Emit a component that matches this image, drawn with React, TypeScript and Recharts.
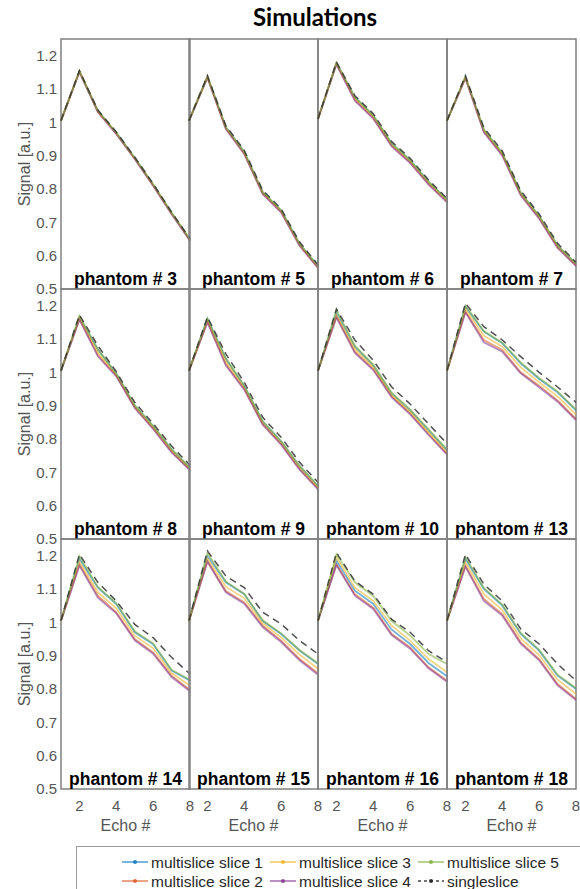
import React from 'react';
import { LineChart, Line, XAxis, YAxis, ReferenceArea } from 'recharts';

const ECHOES = [1, 2, 3, 4, 5, 6, 7, 8];
const X_TICKS = [2, 4, 6, 8];
const Y_TICKS = [0.5, 0.6, 0.7, 0.8, 0.9, 1.0, 1.1, 1.2];
const SERIES_NAMES = ['multislice slice 1', 'multislice slice 2', 'multislice slice 3', 'multislice slice 4', 'multislice slice 5', 'singleslice'];
const SERIES_COLORS = ['#0072BD', '#D95319', '#EDB120', '#7E2F8E', '#77AC30', '#222222'];
const PHANTOM_LABELS = ['phantom # 3', 'phantom # 5', 'phantom # 6', 'phantom # 7', 'phantom # 8', 'phantom # 9', 'phantom # 10', 'phantom # 13', 'phantom # 14', 'phantom # 15', 'phantom # 16', 'phantom # 18'];

// each phantom: [slice1, slice2, slice3, slice4, slice5, singleslice]
const P3 = [
  [1.005, 1.153, 1.034, 0.968, 0.893, 0.813, 0.728, 0.648],
  [1.005, 1.152, 1.032, 0.966, 0.891, 0.811, 0.726, 0.646],
  [1.005, 1.153, 1.033, 0.967, 0.892, 0.812, 0.727, 0.647],
  [1.005, 1.151, 1.031, 0.965, 0.890, 0.810, 0.725, 0.645],
  [1.005, 1.154, 1.035, 0.969, 0.894, 0.814, 0.729, 0.649],
  [1.005, 1.155, 1.037, 0.971, 0.896, 0.816, 0.731, 0.651],
];
const P5 = [
  [1.005, 1.137, 0.985, 0.910, 0.790, 0.735, 0.635, 0.568],
  [1.005, 1.135, 0.981, 0.906, 0.786, 0.731, 0.631, 0.564],
  [1.005, 1.136, 0.983, 0.908, 0.788, 0.733, 0.633, 0.566],
  [1.005, 1.134, 0.980, 0.905, 0.785, 0.730, 0.630, 0.563],
  [1.005, 1.138, 0.986, 0.911, 0.791, 0.736, 0.636, 0.569],
  [1.005, 1.140, 0.990, 0.916, 0.796, 0.741, 0.641, 0.573],
];
const P6 = [
  [1.010, 1.178, 1.075, 1.020, 0.936, 0.886, 0.821, 0.767],
  [1.010, 1.175, 1.068, 1.013, 0.930, 0.880, 0.815, 0.762],
  [1.010, 1.177, 1.072, 1.017, 0.933, 0.883, 0.818, 0.765],
  [1.010, 1.174, 1.065, 1.011, 0.928, 0.878, 0.813, 0.760],
  [1.010, 1.179, 1.076, 1.021, 0.937, 0.887, 0.822, 0.768],
  [1.010, 1.181, 1.080, 1.026, 0.942, 0.892, 0.827, 0.772],
];
const P7 = [
  [1.005, 1.136, 0.977, 0.907, 0.788, 0.718, 0.630, 0.575],
  [1.005, 1.133, 0.972, 0.902, 0.783, 0.713, 0.625, 0.571],
  [1.005, 1.135, 0.975, 0.905, 0.786, 0.716, 0.628, 0.573],
  [1.005, 1.132, 0.970, 0.900, 0.781, 0.711, 0.623, 0.569],
  [1.005, 1.137, 0.978, 0.908, 0.789, 0.719, 0.631, 0.576],
  [1.005, 1.140, 0.984, 0.914, 0.795, 0.725, 0.637, 0.580],
];
const P8 = [
  [1.005, 1.165, 1.068, 0.995, 0.900, 0.838, 0.768, 0.712],
  [1.005, 1.160, 1.052, 0.990, 0.895, 0.832, 0.762, 0.708],
  [1.005, 1.163, 1.060, 0.992, 0.897, 0.835, 0.765, 0.710],
  [1.005, 1.158, 1.048, 0.988, 0.893, 0.830, 0.760, 0.706],
  [1.005, 1.170, 1.070, 0.997, 0.902, 0.840, 0.770, 0.714],
  [1.005, 1.172, 1.080, 1.002, 0.910, 0.846, 0.779, 0.721],
];
const P9 = [
  [1.005, 1.160, 1.040, 0.958, 0.852, 0.792, 0.718, 0.658],
  [1.005, 1.152, 1.025, 0.950, 0.845, 0.785, 0.710, 0.651],
  [1.005, 1.156, 1.032, 0.954, 0.848, 0.788, 0.714, 0.654],
  [1.005, 1.150, 1.020, 0.948, 0.843, 0.783, 0.708, 0.649],
  [1.005, 1.162, 1.042, 0.960, 0.854, 0.794, 0.720, 0.660],
  [1.005, 1.166, 1.055, 0.970, 0.865, 0.805, 0.730, 0.670],
];
const P10 = [
  [1.005, 1.180, 1.077, 1.020, 0.936, 0.886, 0.826, 0.766],
  [1.005, 1.167, 1.062, 1.010, 0.928, 0.877, 0.815, 0.756],
  [1.005, 1.172, 1.070, 1.015, 0.932, 0.881, 0.820, 0.761],
  [1.005, 1.165, 1.058, 1.007, 0.925, 0.874, 0.812, 0.753],
  [1.005, 1.187, 1.080, 1.023, 0.939, 0.889, 0.829, 0.769],
  [1.005, 1.190, 1.097, 1.036, 0.956, 0.905, 0.845, 0.786],
];
const P13 = [
  [1.005, 1.197, 1.122, 1.087, 1.027, 0.980, 0.940, 0.886],
  [1.005, 1.182, 1.097, 1.067, 1.000, 0.960, 0.916, 0.860],
  [1.005, 1.190, 1.110, 1.077, 1.015, 0.970, 0.928, 0.873],
  [1.005, 1.180, 1.090, 1.062, 0.997, 0.955, 0.912, 0.857],
  [1.005, 1.200, 1.124, 1.089, 1.030, 0.983, 0.943, 0.889],
  [1.005, 1.207, 1.137, 1.097, 1.047, 1.000, 0.956, 0.910],
];
const P14 = [
  [1.005, 1.190, 1.104, 1.055, 0.970, 0.934, 0.855, 0.825],
  [1.005, 1.174, 1.080, 1.030, 0.950, 0.910, 0.840, 0.797],
  [1.005, 1.182, 1.090, 1.042, 0.960, 0.922, 0.848, 0.810],
  [1.005, 1.170, 1.074, 1.027, 0.946, 0.906, 0.836, 0.793],
  [1.005, 1.199, 1.106, 1.057, 0.973, 0.937, 0.858, 0.828],
  [1.005, 1.204, 1.120, 1.064, 0.994, 0.954, 0.895, 0.845],
];
const P15 = [
  [1.005, 1.199, 1.120, 1.084, 1.004, 0.965, 0.915, 0.875],
  [1.005, 1.184, 1.094, 1.060, 0.990, 0.945, 0.890, 0.847],
  [1.005, 1.192, 1.107, 1.072, 0.997, 0.955, 0.903, 0.861],
  [1.005, 1.182, 1.090, 1.056, 0.986, 0.941, 0.886, 0.843],
  [1.005, 1.209, 1.122, 1.086, 1.006, 0.967, 0.917, 0.877],
  [1.005, 1.214, 1.139, 1.104, 1.030, 0.995, 0.945, 0.905],
];
const P16 = [
  [1.005, 1.185, 1.095, 1.055, 0.978, 0.935, 0.878, 0.838],
  [1.005, 1.174, 1.084, 1.044, 0.965, 0.925, 0.865, 0.825],
  [1.005, 1.195, 1.104, 1.064, 0.990, 0.945, 0.890, 0.850],
  [1.005, 1.172, 1.080, 1.040, 0.962, 0.921, 0.862, 0.822],
  [1.005, 1.204, 1.120, 1.079, 1.004, 0.960, 0.905, 0.875],
  [1.005, 1.209, 1.124, 1.084, 1.009, 0.970, 0.915, 0.880],
];
const P18 = [
  [1.005, 1.190, 1.100, 1.050, 0.965, 0.915, 0.840, 0.800],
  [1.005, 1.170, 1.070, 1.025, 0.940, 0.890, 0.815, 0.770],
  [1.005, 1.180, 1.085, 1.037, 0.952, 0.902, 0.828, 0.785],
  [1.005, 1.167, 1.064, 1.020, 0.936, 0.886, 0.811, 0.767],
  [1.005, 1.196, 1.103, 1.053, 0.968, 0.918, 0.843, 0.803],
  [1.005, 1.204, 1.114, 1.064, 0.980, 0.935, 0.875, 0.825],
];

const PHANTOM_VALUES = [P3, P5, P6, P7, P8, P9, P10, P13, P14, P15, P16, P18];

// layout
const COL_LEFT = [61, 189, 318, 447];
const ROW_TOP = [39, 289, 539];
const PLOT_W = 129;
const PLOT_H = 250;
const YW = 55;
const FONT = '"Liberation Sans", Arial, Helvetica, sans-serif';
const GRAY = '#555555';

function buildRows(values: number[][]) {
  return ECHOES.map((e, i) => {
    const row: any = { echo: e };
    values.forEach((s, k) => { row['s' + k] = s[i]; });
    return row;
  });
}

const YLabel = (props: any) => {
  const vb = props.viewBox || { x: 0, y: 10, height: PLOT_H };
  const x = vb.x + 18;
  const y = vb.y + vb.height / 2;
  return (
    <text x={x} y={y} transform={`rotate(-90 ${x} ${y})`} textAnchor="middle" dominantBaseline="central" fontSize={16} fill={GRAY} fontFamily={FONT}>
      Signal [a.u.]
    </text>
  );
};

function Panel({ idx }: { idx: number }) {
  const r = Math.floor(idx / 4);
  const c = idx % 4;
  const isLeft = c === 0;
  const isBottom = r === 2;
  const mTop = 10;
  const mRight = 14;
  const mBottom = isBottom ? 0 : 10;
  const XH = 50;
  const width = YW + PLOT_W + mRight;
  const height = mTop + PLOT_H + (isBottom ? XH : mBottom);
  const data = buildRows(PHANTOM_VALUES[idx]);
  return (
    <div style={{ position: 'absolute', left: COL_LEFT[c] - YW, top: ROW_TOP[r] - mTop }}>
      <LineChart width={width} height={height} data={data} margin={{ top: mTop, right: mRight, bottom: mBottom, left: isLeft ? 0 : YW }}>
        <XAxis
          dataKey="echo"
          type="number"
          domain={[1, 8]}
          ticks={X_TICKS}
          hide={!isBottom}
          height={XH}
          axisLine={false}
          tickLine={false}
          tickSize={6}
          tickMargin={5}
          interval={0}
          tick={{ fontSize: 15, fill: GRAY, fontFamily: FONT }}
          label={{ value: 'Echo #', position: 'insideBottom', offset: 8, fontSize: 16, fill: GRAY, fontFamily: FONT }}
        />
        <YAxis
          type="number"
          domain={[0.5, 1.25]}
          ticks={Y_TICKS}
          hide={!isLeft}
          width={YW}
          axisLine={false}
          tickLine={false}
          tickSize={2}
          tickMargin={2}
          interval={0}
          tickFormatter={(v: number) => String(Number(v.toFixed(1)))}
          tick={{ fontSize: 15, fill: GRAY, fontFamily: FONT }}
          label={YLabel}
        />
        <ReferenceArea
          x1={1}
          x2={8}
          y1={0.5}
          y2={1.25}
          fill="none"
          fillOpacity={0}
          stroke="#808080"
          strokeWidth={1.5}
          label={{ value: PHANTOM_LABELS[idx], position: 'insideBottom', offset: 4, fill: '#000', fontSize: 17.5, fontWeight: 700, fontFamily: FONT }}
        />
        {SERIES_NAMES.map((name, k) => (
          k < 5 ? (
            <Line key={name} type="linear" dataKey={'s' + k} name={name} stroke={SERIES_COLORS[k]} strokeOpacity={0.55} strokeWidth={1.8} dot={false} isAnimationActive={false} />
          ) : (
            <Line key={name} type="linear" dataKey={'s' + k} name={name} stroke="#333333" strokeOpacity={0.85} strokeWidth={1.5} strokeDasharray="7 5" dot={false} isAnimationActive={false} />
          )
        ))}
      </LineChart>
    </div>
  );
}

function LegendBox() {
  const colX = [45, 193, 341];
  const rowY = [15, 34];
  return (
    <div style={{ position: 'absolute', left: 76, top: 846, width: 520, height: 60, border: '1px solid #9a9a9a', background: '#fff' }}>
      <svg width={520} height={60} style={{ display: 'block' }}>
        {SERIES_NAMES.map((name, k) => {
          const col = Math.floor(k / 2);
          const row = k % 2;
          const x0 = colX[col];
          const y = rowY[row];
          const dashed = k === 5;
          return (
            <g key={name}>
              <line x1={x0} x2={x0 + 26} y1={y} y2={y} stroke={SERIES_COLORS[k]} strokeOpacity={dashed ? 0.85 : 0.7} strokeWidth={1.5} strokeDasharray={dashed ? '3 3' : undefined} />
              <circle cx={x0 + 13} cy={y} r={2} fill={SERIES_COLORS[k]} fillOpacity={dashed ? 0.9 : 0.8} />
              <text x={x0 + 29} y={y} dominantBaseline="central" fontSize={15.5} fill="#262626" fontFamily={FONT}>{name}</text>
            </g>
          );
        })}
      </svg>
    </div>
  );
}

export default function App() {
  return (
    <div style={{ position: 'absolute', left: 0, top: 0, width: 580, height: 889, overflow: 'hidden', background: '#fff', fontFamily: FONT }}>
      <div style={{ position: 'absolute', left: 0, top: 0, width: 630, textAlign: 'center', fontFamily: 'Lato, "Open Sans", sans-serif', fontWeight: 700, fontSize: 24, lineHeight: '34px', color: '#000' }}>
        Simulations
      </div>
      {PHANTOM_LABELS.map((_, i) => <Panel key={i} idx={i} />)}
      <LegendBox />
    </div>
  );
}
